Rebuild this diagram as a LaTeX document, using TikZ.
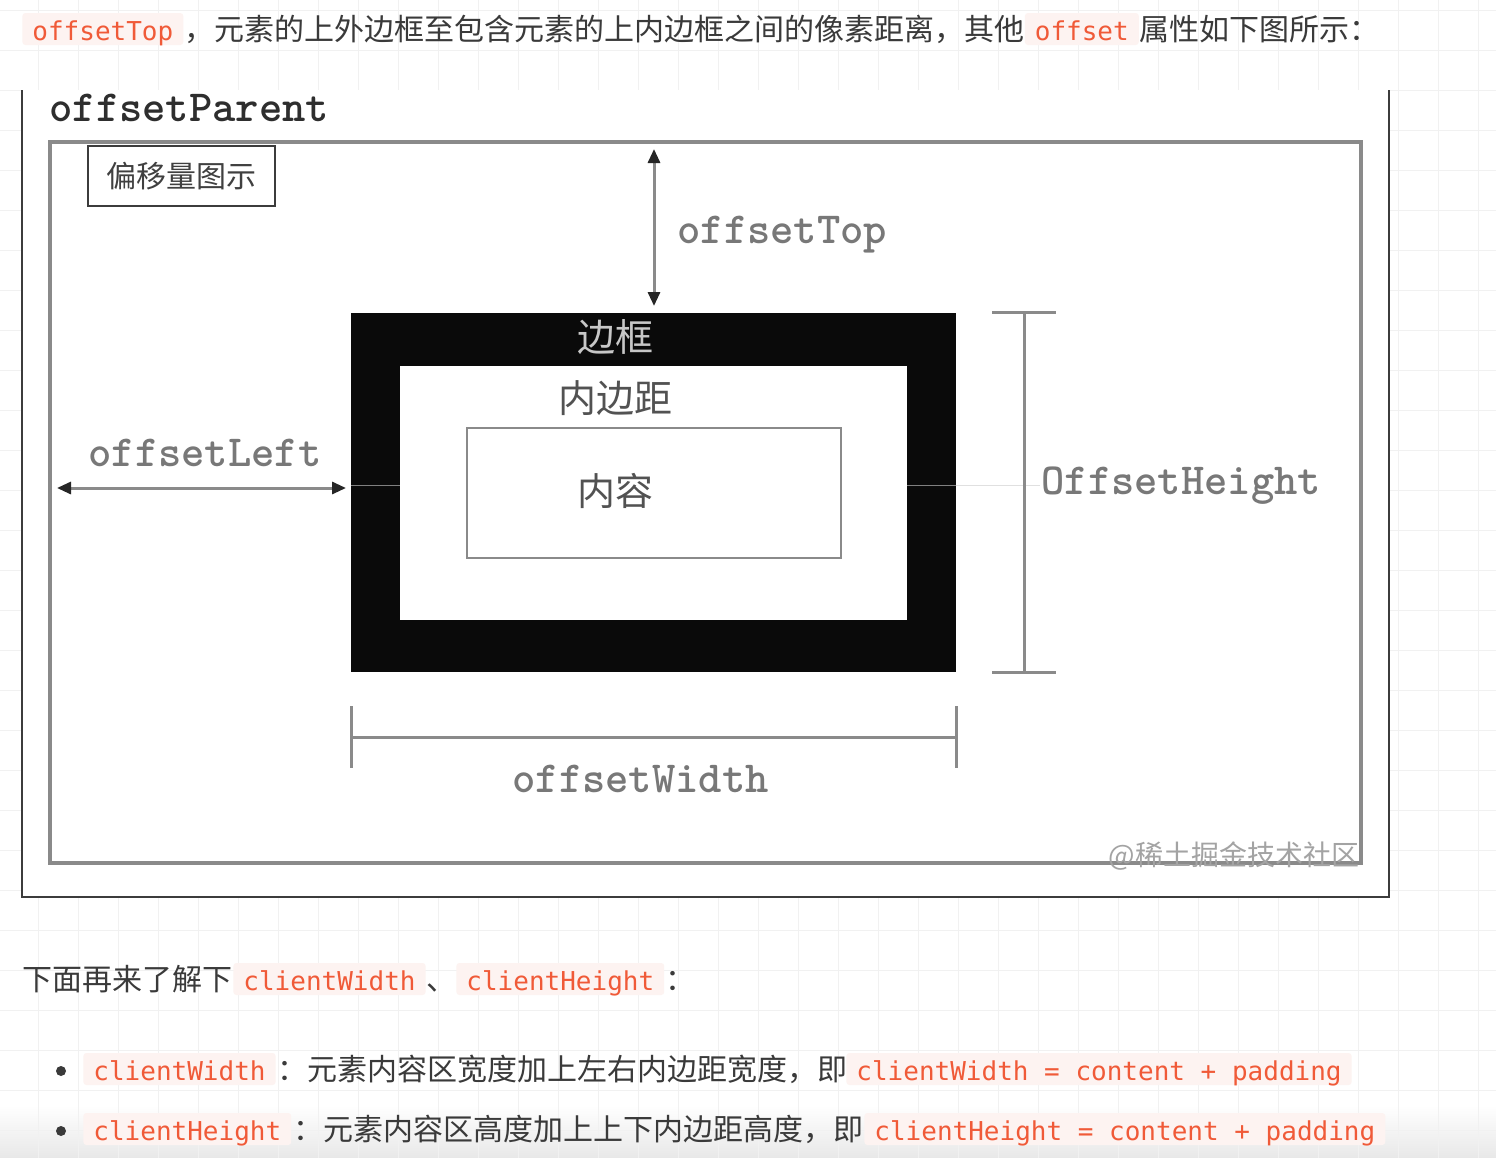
\documentclass[tikz,border=0pt]{standalone}
\usepackage{fontspec}
\setmainfont{Noto Sans CJK SC}
\newfontfamily\codefont{DejaVu Sans Mono}
\usetikzlibrary{arrows.meta}
\definecolor{bodytext}{HTML}{3A3A3A}
\definecolor{codered}{HTML}{F05A38}
\definecolor{codebg}{HTML}{FDF3F1}
\definecolor{gridcol}{HTML}{F1F1F1}
\definecolor{framecol}{HTML}{3C3C3C}
\definecolor{boxgray}{HTML}{8A8A8A}
\definecolor{labelgray}{HTML}{787878}
\definecolor{headcol}{HTML}{262626}
\begin{document}
\begin{tikzpicture}[x=0.5pt,y=-0.5pt,
  chip/.style={fill=codebg, rounded corners=1.5pt, text=codered,
    font=\codefont\fontsize{13pt}{13pt}\selectfont, inner xsep=5pt, inner ysep=0pt,
    text height=13.5pt, text depth=2.5pt, anchor=base west},
  bodyA/.style={text=bodytext, inner sep=0pt, anchor=base west, font=\fontsize{15pt}{15pt}\selectfont},
  lbl/.style={text=labelgray, inner sep=0pt, anchor=base west, font=\ttfamily\bfseries\fontsize{22.2pt}{22.2pt}\selectfont},
  cjklbl/.style={inner sep=0pt, font=\fontsize{19pt}{19pt}\selectfont},
  dimline/.style={draw=boxgray, line width=1.5pt},
  dimarrow/.style={dimline, {Triangle[length=7pt,width=6pt,color=headcol]}-{Triangle[length=7pt,width=6pt,color=headcol]}},
  bulletdot/.style={circle, fill=bodytext, minimum size=5pt, inner sep=0pt}
]
\useasboundingbox (0,0) rectangle (1496,1158);
\fill[white] (0,0) rectangle (1496,1158);
\shade[top color=white, bottom color=black!9] (0,1105) rectangle (1496,1158);
% grid
\foreach \i in {0,...,36} \draw[gridcol, line width=0.5pt] (38+40*\i,0) -- (38+40*\i,1158);
\foreach \j in {0,...,28} \draw[gridcol, line width=0.5pt] (0,10+40*\j) -- (1496,10+40*\j);

% ---- first text line
\node[chip] (c1) at (22,40) {offsetTop};
\node[bodyA] (t1) at (c1.base east) {，元素的上外边框至包含元素的上内边框之间的像素距离，其他};
\node[chip] (c2) at (t1.base east) {offset};
\node[bodyA] (t2) at (c2.base east) {属性如下图所示：};

% ---- diagram image
\fill[white] (22,90) rectangle (1389,897);
\draw[framecol, line width=1pt] (22,90) -- (22,897) -- (1389,897) -- (1389,90);

\node[lbl, text=black!82] (parentlbl) at (49,121) {offsetParent};
\node[draw=boxgray, line width=1.75pt, minimum width=655.5pt, minimum height=360.5pt, inner sep=0pt] (parent) at (705.5,502.5) {};
\node[draw=framecol, line width=1pt, fill=white, minimum width=93.5pt, minimum height=30pt, inner sep=0pt,
      text=black!75, font=\fontsize{15pt}{15pt}\selectfont] (legend) at (181.5,176) {偏移量图示};

\node[fill=black!96, minimum width=302.5pt, minimum height=179.5pt, inner sep=0pt] (bordbox) at (653.5,492.5) {};
\node[fill=white, minimum width=253.5pt, minimum height=127pt, inner sep=0pt] (padbox) at (653.5,493) {};
\node[draw=boxgray, line width=1.25pt, fill=white, minimum width=187pt, minimum height=65pt, inner sep=0pt] (contbox) at (654,493) {};

\node[cjklbl, text=black!22] (bordlbl) at (615,337) {边框};
\node[cjklbl, text=black!68] (padlbl) at (615,398) {内边距};
\node[cjklbl, text=black!68] (contlbl) at (615,491) {内容};

% faint centre line
\draw[black!50, line width=0.5pt] (351,485) -- (400,485);
\draw[black!50, line width=0.5pt] (907,485) -- (956,485);
\draw[black!12, line width=0.5pt] (956,485) -- (1040,485);

% offsetTop
\coordinate (topA) at (654,149);
\coordinate (topB) at (654,306);
\draw[dimarrow] (topA) -- (topB);
\node[lbl] (toplbl) at (677,243) {offsetTop};

% offsetLeft
\coordinate (leftA) at (57,488);
\coordinate (leftB) at (346,488);
\draw[dimarrow] (leftA) -- (leftB);
\node[lbl] (leftlbl) at (88,466) {offsetLeft};

% offsetHeight
\coordinate (hA) at (1024,312);
\coordinate (hB) at (1024,672);
\coordinate (hA1) at (992,312);
\coordinate (hA2) at (1056,312);
\coordinate (hB1) at (992,672);
\coordinate (hB2) at (1056,672);
\draw[dimline] (hA) -- (hB);
\draw[dimline] (hA1) -- (hA2);
\draw[dimline] (hB1) -- (hB2);
\node[lbl] (heightlbl) at (1041,494) {OffsetHeight};

% offsetWidth
\coordinate (wA) at (351,737);
\coordinate (wB) at (956,737);
\coordinate (wA1) at (351,706);
\coordinate (wA2) at (351,768);
\coordinate (wB1) at (956,706);
\coordinate (wB2) at (956,768);
\draw[dimline] (wA) -- (wB);
\draw[dimline] (wA1) -- (wA2);
\draw[dimline] (wB1) -- (wB2);
\node[lbl] (widthlbl) at (512,792) {offsetWidth};

\node[inner sep=0pt, text=black!36, font=\fontsize{14pt}{14pt}\selectfont] (wm) at (1234,856) {@稀土掘金技术社区};

% ---- text below
\node[bodyA] (t3) at (22,990) {下面再来了解下};
\node[chip] (c3) at (233,990) {clientWidth};
\node[bodyA] (t4) at (c3.base east) {、};
\node[chip] (c4) at (456,990) {clientHeight};
\node[bodyA] (t5) at (c4.base east) {：};

\node[bulletdot] (b1) at (61,1071) {};
\node[chip] (c5) at (83,1080) {clientWidth};
\node[bodyA] (t6) at (277,1080) {：元素内容区宽度加上左右内边距宽度，即};
\node[chip] (c6) at (846,1080) {clientWidth = content + padding};

\node[bulletdot] (b2) at (61,1131) {};
\node[chip] (c7) at (83,1140) {clientHeight};
\node[bodyA] (t8) at (293,1140) {：元素内容区高度加上上下内边距高度，即};
\node[chip] (c8) at (864,1140) {clientHeight = content + padding};
\end{tikzpicture}
\end{document}
